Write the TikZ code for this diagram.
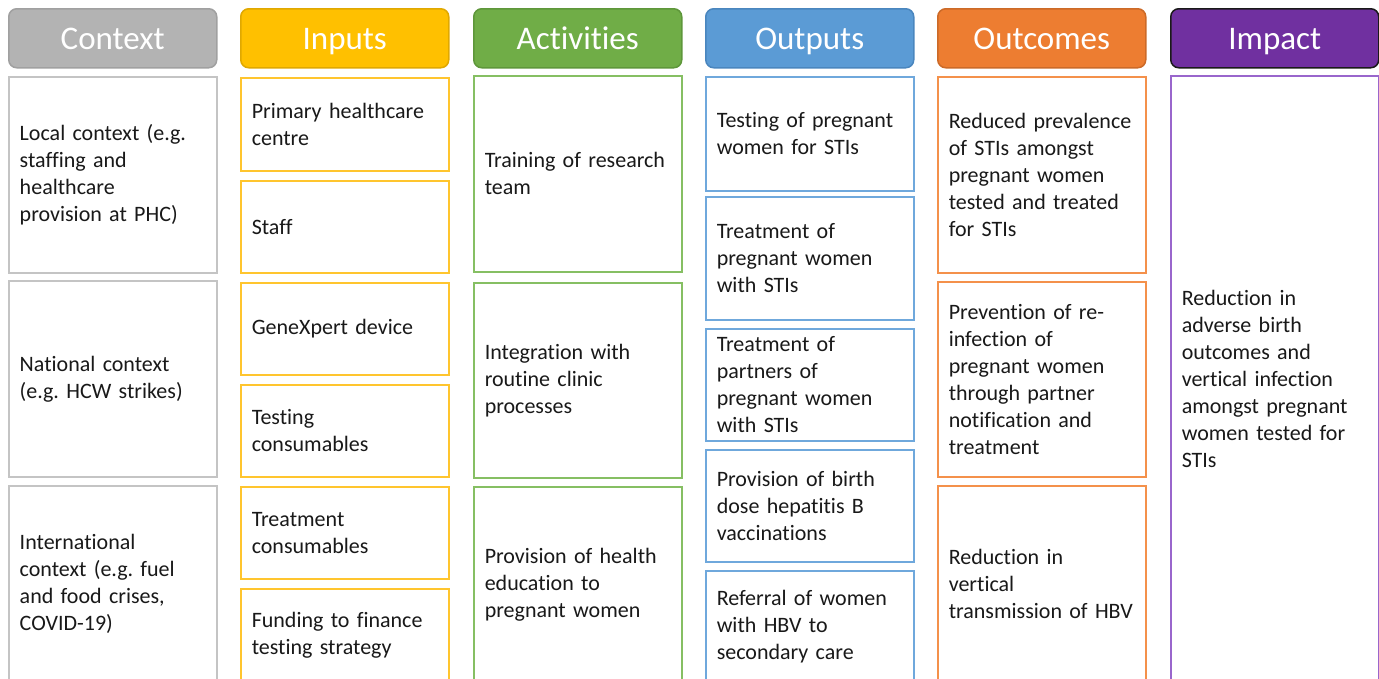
\documentclass[tikz,border=0pt]{standalone}
\usepackage{fontspec}
\setmainfont[Ligatures=NoCommon]{Carlito}
\frenchspacing
\definecolor{ctxF}{HTML}{B3B3B3}\definecolor{ctxD}{HTML}{A0A0A0}\definecolor{ctxB}{HTML}{C4C4C4}
\definecolor{inpF}{HTML}{FFC000}\definecolor{inpD}{HTML}{E0A800}\definecolor{inpB}{HTML}{FFC52E}
\definecolor{actF}{HTML}{70AD47}\definecolor{actD}{HTML}{5E973A}\definecolor{actB}{HTML}{86BF63}
\definecolor{outF}{HTML}{5B9BD5}\definecolor{outD}{HTML}{4A86BE}\definecolor{outB}{HTML}{6FA8DC}
\definecolor{ocmF}{HTML}{ED7D31}\definecolor{ocmD}{HTML}{CC6A28}\definecolor{ocmB}{HTML}{F4914B}
\definecolor{impF}{HTML}{7030A0}\definecolor{impD}{HTML}{1A1A1A}\definecolor{impB}{HTML}{9966CC}
\tikzset{
  hdr/.style={anchor=north west, rounded corners=8pt, line width=1.5pt, minimum width=208pt, minimum height=59pt, text=white, font=\fontsize{33}{38}\selectfont, inner sep=0pt, text height=28pt, text depth=5pt},
  cbox/.style={anchor=north west, line width=1.5pt, fill=white, text width=186pt, inner xsep=11pt, inner ysep=0pt, align=left, font=\fontsize{22}{27}\selectfont, text=black!90},
}
\newcommand{\bx}[6]{\node[cbox, draw=#2, minimum height={#5-#4}] (#1) at (#3,#4) {#6};}
\begin{document}
\begin{tikzpicture}[x=1pt,y=-1pt]
\useasboundingbox (0,0) rectangle (1379,678);
\clip (0,0) rectangle (1379,678);
% headers
\node[hdr, fill=ctxF, draw=ctxD] (hctx) at (8,8) {Context};
\node[hdr, fill=inpF, draw=inpD] (hinp) at (240,8) {Inputs};
\node[hdr, fill=actF, draw=actD] (hact) at (473,8) {Activities};
\node[hdr, fill=outF, draw=outD] (hout) at (705,8) {Outputs};
\node[hdr, fill=ocmF, draw=ocmD] (hocm) at (937,8) {Outcomes};
\node[hdr, fill=impF, draw=impD] (himp) at (1170,8) {Impact};
% context
\bx{c1}{ctxB}{8}{76}{272}{Local context (e.g.\\staffing and\\healthcare\\provision at PHC)}
\bx{c2}{ctxB}{8}{280}{476}{National context\\(e.g. HCW strikes)}
\bx{c3}{ctxB}{8}{485}{681}{International\\context (e.g. fuel\\and food crises,\\COVID-19)}
% inputs
\bx{i1}{inpB}{240}{77}{170}{Primary healthcare\\centre}
\bx{i2}{inpB}{240}{180}{272}{Staff}
\bx{i3}{inpB}{240}{282}{374}{GeneXpert device}
\bx{i4}{inpB}{240}{384}{476}{Testing\\consumables}
\bx{i5}{inpB}{240}{486}{578}{Treatment\\consumables}
\bx{i6}{inpB}{240}{588}{681}{Funding to finance\\testing strategy}
% activities
\bx{a1}{actB}{473}{75}{271}{Training of research\\team}
\bx{a2}{actB}{473}{282}{477}{Integration with\\routine clinic\\processes}
\bx{a3}{actB}{473}{486}{681}{Provision of health\\education to\\pregnant women}
% outputs
\bx{o1}{outB}{705}{76}{190}{Testing of pregnant\\women for STIs}
\bx{o2}{outB}{705}{196}{319}{Treatment of\\pregnant women\\with STIs}
\bx{o3}{outB}{705}{328}{440}{Treatment of\\partners of\\pregnant women\\with STIs}
\bx{o4}{outB}{705}{449}{561}{Provision of birth\\dose hepatitis B\\vaccinations}
\bx{o5}{outB}{705}{570}{682}{Referral of women\\with HBV to\\secondary care}
% outcomes
\bx{m1}{ocmB}{937}{76}{272}{Reduced prevalence\\of STIs amongst\\pregnant women\\tested and treated\\for STIs}
\bx{m2}{ocmB}{937}{281}{476}{Prevention of re-\\infection of\\pregnant women\\through partner\\notification and\\treatment}
\bx{m3}{ocmB}{937}{485}{681}{Reduction in\\vertical\\transmission of HBV}
% impact
\bx{p1}{impB}{1170}{75}{682}{Reduction in\\adverse birth\\outcomes and\\vertical infection\\amongst pregnant\\women tested for\\STIs}
\end{tikzpicture}
\end{document}
